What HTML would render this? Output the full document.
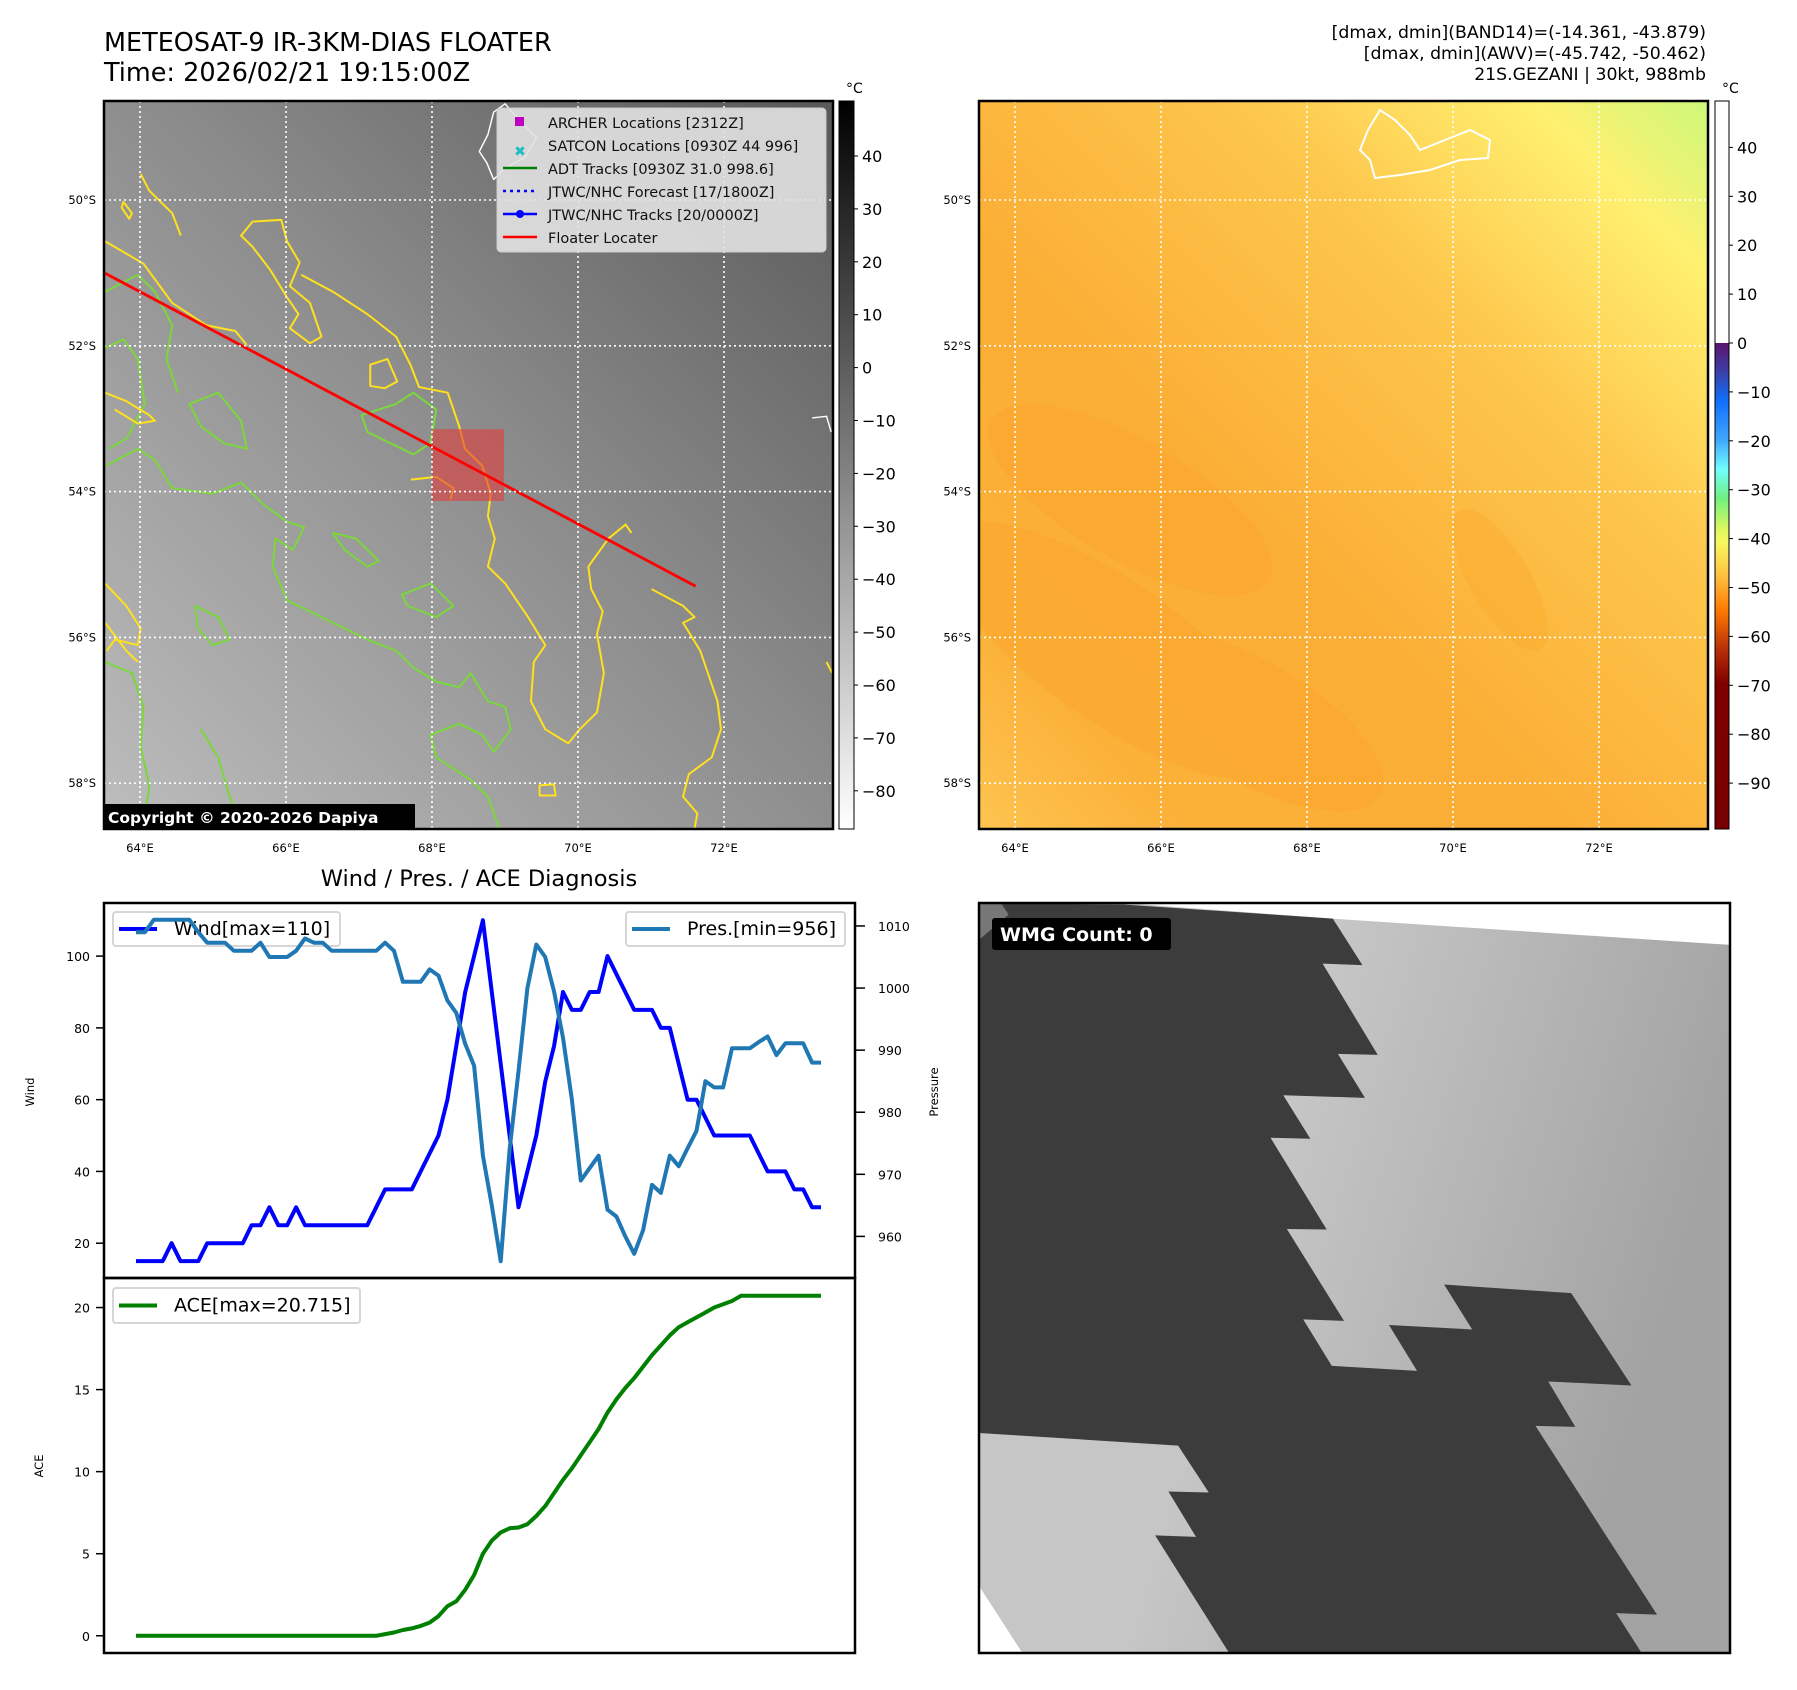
<!DOCTYPE html>
<html><head><meta charset="utf-8">
<style>
html,body{margin:0;padding:0;background:#fff;}
svg{display:block;font-family:"DejaVu Sans","Liberation Sans",sans-serif;}
</style></head>
<body>
<svg id="fig" width="1797" height="1690" viewBox="0 0 1797 1690" xmlns="http://www.w3.org/2000/svg">
<defs>
  <linearGradient id="irBg" x1="1" y1="0" x2="0" y2="1">
    <stop offset="0" stop-color="#585858"/>
    <stop offset="0.45" stop-color="#8a8a8a"/>
    <stop offset="1" stop-color="#bdbdbd"/>
  </linearGradient>
  <linearGradient id="awvBg" x1="1" y1="0" x2="0" y2="1">
    <stop offset="0" stop-color="#cdf87a"/>
    <stop offset="0.12" stop-color="#fff070"/>
    <stop offset="0.32" stop-color="#fdc64c"/>
    <stop offset="0.6" stop-color="#fbae36"/>
    <stop offset="0.85" stop-color="#fbb038"/>
    <stop offset="1" stop-color="#fdc450"/>
  </linearGradient>
  <linearGradient id="cbGray" x1="0" y1="0" x2="0" y2="1">
    <stop offset="0" stop-color="#000"/><stop offset="1" stop-color="#fff"/>
  </linearGradient>
  <linearGradient id="cbAwv" x1="0" y1="0" x2="0" y2="1">
    <stop offset="0" stop-color="#5c1470"/>
    <stop offset="0.06" stop-color="#3a40a8"/>
    <stop offset="0.12" stop-color="#1070ff"/>
    <stop offset="0.2" stop-color="#40a8ff"/>
    <stop offset="0.26" stop-color="#70ffff"/>
    <stop offset="0.32" stop-color="#70f080"/>
    <stop offset="0.38" stop-color="#d8f860"/>
    <stop offset="0.41" stop-color="#f8f860"/>
    <stop offset="0.48" stop-color="#ffc040"/>
    <stop offset="0.55" stop-color="#ff7a00"/>
    <stop offset="0.63" stop-color="#b83008"/>
    <stop offset="0.7" stop-color="#800000"/>
    <stop offset="1" stop-color="#780000"/>
  </linearGradient>
  <linearGradient id="wmgBg" x1="0" y1="0" x2="1" y2="0.3">
    <stop offset="0.45" stop-color="#c6c6c6"/>
    <stop offset="1" stop-color="#a2a2a2"/>
  </linearGradient>
  <clipPath id="clipL"><rect x="104" y="101" width="729" height="728"/></clipPath>
  <clipPath id="clipR"><rect x="979" y="101" width="729" height="728"/></clipPath>
</defs>

<text x="104" y="51" font-size="25.5">METEOSAT-9 IR-3KM-DIAS FLOATER</text>
<text x="104" y="81" font-size="25.5">Time: 2026/02/21 19:15:00Z</text>
<g font-size="17.3" text-anchor="end">
  <text x="1706" y="38">[dmax, dmin](BAND14)=(-14.361, -43.879)</text>
  <text x="1706" y="59">[dmax, dmin](AWV)=(-45.742, -50.462)</text>
  <text x="1706" y="80">21S.GEZANI | 30kt, 988mb</text>
</g>

<g>
  <rect x="104" y="101" width="729" height="728" fill="url(#irBg)"/>
  <g clip-path="url(#clipL)">
    <g transform="translate(0,0) scale(0.574,0.561)" fill="none" stroke-width="3.5" stroke-linejoin="round">
      <g stroke="#7ad83a">
        <path d="M183,620 L215,605 L240,640 L252,720 L222,780 L190,800"/>
        <path d="M185,830 L240,800 L270,820 L300,870 L370,880 L420,860 L460,900 L500,930 L530,940 L510,980 L480,960 L475,1010 L500,1070 L560,1100 L600,1120 L640,1140 L690,1160 L720,1190 L760,1215 L800,1225 L820,1200 L850,1250 L880,1260 L890,1300 L860,1340 L840,1310 L800,1290 L750,1310 L760,1350 L820,1390 L850,1420 L870,1477"/>
        <path d="M630,740 L690,720 L720,700 L760,730 L750,790 L720,810 L680,790 L640,770 Z"/>
        <path d="M700,1060 L750,1040 L790,1080 L760,1100 L710,1080 Z"/>
        <path d="M183,520 L240,490 L270,520 L300,580 L290,640 L310,700"/>
        <path d="M330,720 L380,700 L420,750 L430,800 L390,790 L350,760 Z"/>
        <path d="M183,1180 L230,1200 L250,1260 L245,1330 L260,1400 L250,1477"/>
        <path d="M340,1080 L380,1100 L400,1140 L370,1150 L345,1120 Z"/>
        <path d="M580,950 L620,960 L660,1000 L640,1010 L600,980 Z"/>
        <path d="M350,1300 L380,1350 L400,1420 L420,1477"/>
      </g>
      <g stroke="#ffe01c">
        <path d="M183,430 L250,470 L300,540 L360,580 L410,590 L430,615"/>
        <path d="M440,395 L490,392 L500,430 L522,468 L505,510 L540,540 L560,600 L540,612 L505,585 L520,560 L500,530 L470,480 L440,440 L420,420 Z"/>
        <path d="M525,490 L580,520 L640,560 L690,600 L715,650 L730,690 L780,700 L800,760 L810,800 L840,830 L855,880 L850,920 L862,960 L850,1010 L880,1040 L920,1100 L950,1150 L930,1180 L925,1250 L950,1300 L990,1325 L1010,1300 L1040,1270 L1052,1200 L1040,1130 L1050,1090 L1030,1050 L1025,1010 L1060,960 L1090,935 L1100,950"/>
        <path d="M1135,1050 L1190,1080 L1210,1100 L1190,1110 L1220,1160 L1250,1250 L1256,1300 L1240,1350 L1200,1380 L1190,1420 L1215,1450 L1210,1477"/>
        <path d="M645,650 L675,640 L692,680 L670,692 L645,688 Z"/>
        <path d="M940,1400 L965,1398 L968,1418 L940,1418 Z"/>
        <path d="M183,1040 L220,1080 L245,1120 L240,1150 L200,1140 L186,1160"/>
        <path d="M183,1110 L220,1160 L240,1180"/>
        <path d="M183,700 L220,715 L260,740 L270,750 L240,755 L200,730"/>
        <path d="M716,855 L760,850 L790,870 L785,890"/>
        <path d="M245,310 L260,340 L300,380 L315,420"/>
        <path d="M215,360 L230,380 L225,390 L212,370 Z"/>
        <path d="M1440,1180 L1450,1200"/>
      </g>
      <path d="M860,200 L880,185 L905,215 L935,245 L915,280 L880,300 L860,320 L848,290 L835,270 L850,240 Z" stroke="#fff" stroke-width="2.5"/>
      <path d="M1415,745 L1440,742 L1448,770" stroke="#fff" stroke-width="2.5"/>
      <rect x="752" y="765" width="126" height="128" fill="rgba(225,60,60,0.6)" stroke="none"/>
      <line x1="183" y1="487" x2="1212" y2="1045" stroke="#ff0000" stroke-width="5"/>
    </g>
    <g id="gridL" stroke="#fff" stroke-width="1.6" stroke-dasharray="2,3"></g>
  </g>
  <rect x="104" y="101" width="729" height="728" fill="none" stroke="#000" stroke-width="2.5"/>
  <g>
    <rect x="497" y="108" width="329" height="144" rx="4" fill="#e2e2e2" fill-opacity="0.9" stroke="#cccccc"/>
    <rect x="515" y="117" width="9" height="9" fill="#c000c0"/>
    <text x="520" y="156" font-size="14" font-weight="bold" fill="#20c0c0" text-anchor="middle">✖</text>
    <line x1="503" y1="168" x2="537" y2="168" stroke="#008000" stroke-width="2.5"/>
    <line x1="503" y1="191" x2="537" y2="191" stroke="#0000ff" stroke-width="2.5" stroke-dasharray="3,4"/>
    <line x1="503" y1="214" x2="537" y2="214" stroke="#0000ff" stroke-width="2.5"/><circle cx="520" cy="214" r="4" fill="#0000ff"/>
    <line x1="503" y1="237" x2="537" y2="237" stroke="#ff0000" stroke-width="2.5"/>
    <g font-size="14.5" fill="#111">
      <text x="548" y="128">ARCHER Locations [2312Z]</text>
      <text x="548" y="151">SATCON Locations [0930Z 44 996]</text>
      <text x="548" y="174">ADT Tracks [0930Z 31.0 998.6]</text>
      <text x="548" y="197">JTWC/NHC Forecast [17/1800Z]</text>
      <text x="548" y="220">JTWC/NHC Tracks [20/0000Z]</text>
      <text x="548" y="243">Floater Locater</text>
    </g>
  </g>
  <g>
    <rect x="103" y="804" width="312" height="26" fill="#000"/>
    <text x="108" y="823" font-size="15.5" font-weight="bold" fill="#fff">Copyright © 2020-2026 Dapiya</text>
  </g>
</g>
<g id="ticksL" font-size="11.5"></g>
<rect x="839" y="101" width="15" height="728" fill="url(#cbGray)" stroke="#000" stroke-width="1"/>
<text x="846" y="93" font-size="14">°C</text>
<g id="cbL" font-size="16"></g>

<g>
  <rect x="979" y="101" width="729" height="728" fill="url(#awvBg)"/>
  <g clip-path="url(#clipR)" opacity="0.25">
    <ellipse cx="1130" cy="500" rx="160" ry="60" fill="#f89a20" transform="rotate(30 1130 500)"/>
    <ellipse cx="1110" cy="650" rx="200" ry="70" fill="#f89a20" transform="rotate(35 1110 650)"/>
    <ellipse cx="1250" cy="720" rx="150" ry="60" fill="#f89a20" transform="rotate(30 1250 720)"/>
    <ellipse cx="1500" cy="580" rx="80" ry="30" fill="#f8a020" transform="rotate(60 1500 580)"/>
  </g>
  <g clip-path="url(#clipR)">
    <path d="M1368,130 L1380,110 L1395,120 L1410,135 L1420,150 L1445,140 L1470,130 L1490,140 L1488,158 L1460,160 L1430,170 L1400,175 L1375,178 L1370,160 L1360,150 Z" fill="none" stroke="#fff" stroke-width="2"/>
    <g id="gridR" stroke="#fff" stroke-width="1.6" stroke-dasharray="2,3"></g>
  </g>
  <rect x="979" y="101" width="729" height="728" fill="none" stroke="#000" stroke-width="2.5"/>
</g>
<g id="ticksR" font-size="11.5"></g>
<rect x="1715" y="101" width="14" height="242" fill="#fff" stroke="none"/>
<rect x="1715" y="343" width="14" height="486" fill="url(#cbAwv)"/>
<rect x="1715" y="101" width="14" height="728" fill="none" stroke="#000" stroke-width="1"/>
<text x="1722" y="93" font-size="14">°C</text>
<g id="cbR" font-size="16"></g>

<text x="479" y="886" font-size="22.5" text-anchor="middle">Wind / Pres. / ACE Diagnosis</text>
<g id="diag"></g>

<g>
  <svg x="979" y="903" width="751" height="750" viewBox="37 27 1471 1486" preserveAspectRatio="none">
    <rect x="37" y="27" width="1471" height="1486" fill="url(#wmgBg)"/>
    <polygon points="320,27 1508,27 1508,110 730,58" fill="#fff"/>
    <polygon points="37,27 320,30 730,58 788,150 710,147 818,328 740,326 793,413 633,408 686,494 608,492 718,674 640,673 752,855 672,852 728,944 895,954 840,863 1003,872 948,783 1197,800 1315,983 1152,975 1205,1065 1127,1063 1365,1437 1285,1434 1335,1513 527,1513 382,1280 462,1283 408,1193 487,1195 427,1102 37,1077" fill="#3c3c3c"/>
    <polygon points="37,27 80,27 95,50 37,100" fill="#777"/>
    <polygon points="37,1380 122,1513 37,1513" fill="#fff"/>
  </svg>
  <rect x="979" y="903" width="751" height="750" fill="none" stroke="#000" stroke-width="2.5"/>
  <rect x="992" y="918" width="179" height="32" rx="3" fill="#000"/>
  <text x="1000" y="941" font-size="19" font-weight="bold" fill="#fff">WMG Count: 0</text>
</g>

<script>
const windValues = [15,15,15,15,20,15,15,15,20,20,20,20,20,25,25,30,25,25,30,25,25,25,25,25,25,25,25,30,35,35,35,35,40,45,50,60,75,90,100,110,90,70,50,30,40,50,65,75,90,85,85,90,90,100,95,90,85,85,85,80,80,70,60,60,55,50,50,50,50,50,45,40,40,40,35,35,30,30];
const presValues = [1009,1009,1011,1011,1011,1011,1011,1009,1007.3,1007.3,1007.3,1006,1006,1006,1007.3,1005,1005,1005,1006,1008,1007.3,1007.3,1006,1006,1006,1006,1006,1006,1007.3,1006,1001,1001,1001,1003,1002,998,996,991,987.5,973,965,956,974,986.6,1000,1007,1005,999.4,992,982,969,971,973,964.3,963.2,960,957.2,961,968.3,967,973,971.3,974.2,977,985,984,984,990.3,990.3,990.3,991.3,992.2,989.2,991.1,991.1,991.1,988,988];
const aceValues = [0,0,0,0,0,0,0,0,0,0,0,0,0,0,0,0,0,0,0,0,0,0,0,0,0,0,0,0,0.1,0.2,0.35,0.45,0.6,0.8,1.2,1.8,2.1,2.8,3.7,5,5.8,6.3,6.55,6.6,6.8,7.3,7.9,8.7,9.5,10.2,11,11.8,12.6,13.6,14.4,15.1,15.7,16.4,17.1,17.7,18.3,18.8,19.1,19.4,19.7,20.0,20.2,20.4,20.715,20.715,20.715,20.715,20.715,20.715,20.715,20.715,20.715,20.715];
const windTicks = [20,40,60,80,100];
const presTicks = [960,970,980,990,1000,1010];
const aceTicks = [0,5,10,15,20];
const latTicks = [50,52,54,56,58];
const lonTicks = [64,66,68,70,72];
const irCbTicks = [40,30,20,10,0,-10,-20,-30,-40,-50,-60,-70,-80];
const awvCbTicks = [40,30,20,10,0,-10,-20,-30,-40,-50,-60,-70,-80,-90];

const NS = 'http://www.w3.org/2000/svg';
function mk(parent, tag, attrs, text) {
  const e = document.createElementNS(NS, tag);
  for (const k in attrs) e.setAttribute(k, attrs[k]);
  if (text !== undefined) e.textContent = text;
  parent.appendChild(e);
  return e;
}
function fmt(v){ return v < 0 ? '\u2212' + Math.abs(v) : String(v); }

const latY = lat => 200 + (lat - 50) * 72.9;
const lonX = lon => 140 + (lon - 64) * 73;
function mapAxes(gridId, ticksId, dx) {
  const g = document.getElementById(gridId), t = document.getElementById(ticksId);
  latTicks.forEach(lat => {
    const y = latY(lat);
    const l = mk(g, 'line', {x1: 104+dx, y1: y, x2: 833+dx, y2: y});
    
    
    const tx = mk(t, 'text', {x: 96+dx, y: y+4, 'text-anchor': 'end'}, lat + '°S');
    
    
  });
  lonTicks.forEach(lon => {
    const x = lonX(lon) + dx;
    const l = mk(g, 'line', {x1: x, y1: 101, x2: x, y2: 829});
    
    
    const tx = mk(t, 'text', {x: x, y: 852, 'text-anchor': 'middle'}, lon + '°E');
    
    
  });
}
mapAxes('gridL', 'ticksL', 0);
mapAxes('gridR', 'ticksR', 875);

function colorbarTicks(id, ticks, x, yf) {
  const g = document.getElementById(id);
  ticks.forEach(v => {
    const y = yf(v);
    mk(g, 'line', {x1: x, y1: y, x2: x+4, y2: y, stroke: '#000', 'stroke-width': 1});
    const tx = mk(g, 'text', {x: x+8, y: y+6}, fmt(v));
    
    
  });
}
colorbarTicks('cbL', irCbTicks, 854, v => 156 + (40 - v) * 5.29);
colorbarTicks('cbR', awvCbTicks, 1729, v => 343 - v * 4.89);

const diag = document.getElementById('diag');
const N = windValues.length;
const xOf = i => 136 + i * (821 - 136) / (N - 1);
const yWind = v => 1278 - (v - 10.3) / (114.8 - 10.3) * 375;
const yPres = v => 1278 - (v - 953.3) / (1013.7 - 953.3) * 375;
const yAce = v => 1653 - (v + 1.05) / (21.8 + 1.05) * 375;

function tickSet(ticks, yf, side) {
  ticks.forEach(v => {
    const y = yf(v);
    if (side === 'left') {
      mk(diag, 'line', {x1: 96, y1: y, x2: 104, y2: y, stroke: '#000', 'stroke-width': 1.5});
      const tx = mk(diag, 'text', {x: 90, y: y+5, 'text-anchor': 'end', 'font-size': 12.5}, String(v));
      
      
    } else {
      mk(diag, 'line', {x1: 855, y1: y, x2: 865, y2: y, stroke: '#000', 'stroke-width': 1.5});
      const tx = mk(diag, 'text', {x: 878, y: y+5, 'font-size': 12.5}, String(v));
      
      
    }
  });
}
tickSet(windTicks, yWind, 'left');
tickSet(presTicks, yPres, 'right');
tickSet(aceTicks, yAce, 'left');

function legend(x, y, w, h, color, label, name) {
  const g = mk(diag, 'g', {});
  
  
  mk(g, 'rect', {x: x, y: y, width: w, height: h, rx: 3, fill: '#fff', 'fill-opacity': 0.85, stroke: '#d6d6d6', 'stroke-width': 2});
  mk(g, 'line', {x1: x+6, y1: y+h/2, x2: x+44, y2: y+h/2, stroke: color, 'stroke-width': 4});
  mk(g, 'text', {x: x+61, y: y+h/2+6, 'font-size': 19}, label);
}
legend(113, 912, 227, 34, '#0000ff', 'Wind[max=110]', 'wind-legend');

function series(vals, yf, color, name) {
  const pts = vals.map((v, i) => xOf(i).toFixed(1) + ',' + yf(v).toFixed(1)).join(' ');
  const p = mk(diag, 'polyline', {points: pts, fill: 'none', stroke: color, 'stroke-width': 4, 'stroke-linejoin': 'round'});
  
  
}
series(windValues, yWind, '#0000ff', 'wind-line');
series(presValues, yPres, '#1f77b4', 'pressure-line');
series(aceValues, yAce, '#008000', 'ace-line');

legend(626, 912, 219, 34, '#1f77b4', 'Pres.[min=956]', 'pressure-legend');
legend(113, 1288, 247, 35, '#008000', 'ACE[max=20.715]', 'ace-legend');

mk(diag, 'rect', {x: 104, y: 903, width: 751, height: 375, fill: 'none', stroke: '#000', 'stroke-width': 2.5});
mk(diag, 'rect', {x: 104, y: 1278, width: 751, height: 375, fill: 'none', stroke: '#000', 'stroke-width': 2.5});

function ytitle(x, y, label, name) {
  const t = mk(diag, 'text', {x: x, y: y, 'font-size': 11.5, 'text-anchor': 'middle', transform: 'rotate(-90 ' + x + ' ' + y + ')'}, label);
  
  
}
ytitle(34, 1092, 'Wind', 'wind-axis-title');
ytitle(938, 1092, 'Pressure', 'pressure-axis-title');
ytitle(43, 1466, 'ACE', 'ace-axis-title');
</script>
</svg>
</body></html>
